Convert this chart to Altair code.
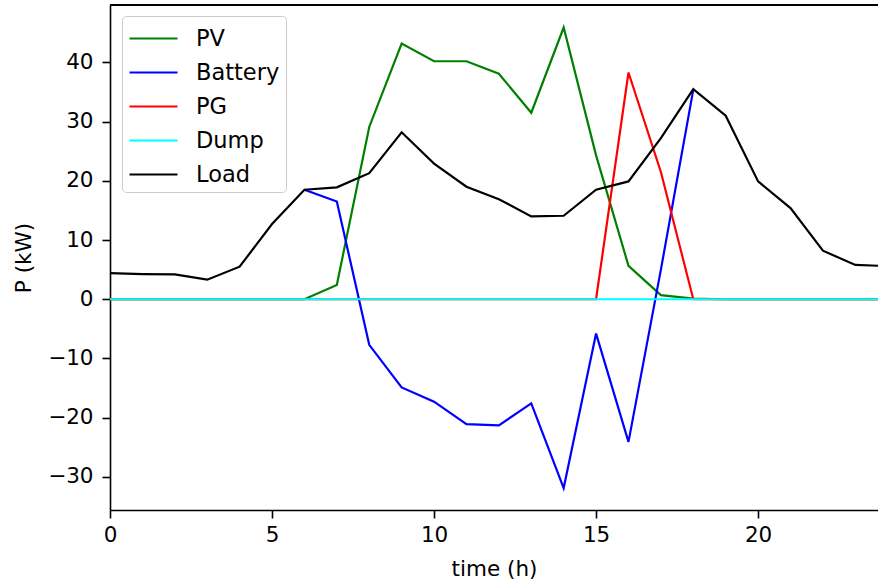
import altair as alt
import pandas as pd

hours = list(range(25))
pv      = [0, 0, 0, 0, 0, 0, 0, 2.4, 29.1, 43.2, 40.2, 40.2, 38.1, 31.5, 45.9, 24.3, 5.65, 0.7, 0.1, 0, 0, 0, 0, 0, 0]
battery = [None, None, None, None, None, None, 18.5, 16.5, -7.7, -14.9, -17.3, -21.1, -21.3, -17.6, -31.9, -5.8, -24.1, 5.0, 35.4, None, None, None, None, None, None]
pg      = [0, 0, 0, 0, 0, 0, 0, 0, 0, 0, 0, 0, 0, 0, 0, 0, 38.3, 21.5, 0, 0, 0, 0, 0, 0, 0]
dump    = [0] * 25
load    = [4.4, 4.25, 4.2, 3.3, 5.5, 12.7, 18.5, 18.9, 21.3, 28.2, 22.9, 19.0, 16.9, 14.0, 14.1, 18.5, 19.9, 27.2, 35.5, 31.0, 19.9, 15.4, 8.2, 5.8, 5.6]

series_names = ["PV", "Battery", "PG", "Dump", "Load"]
series_colors = ["#008000", "#0000ff", "#ff0000", "#00ffff", "#000000"]
series_values = [pv, battery, pg, dump, load]

rows = []
for name, vals in zip(series_names, series_values):
    for t, v in zip(hours, vals):
        if v is not None:
            rows.append({"time": t, "P": v, "series": name})
df = pd.DataFrame(rows)

FONT = "DejaVu Sans"

x_enc = alt.X("time:Q", scale=alt.Scale(domain=[0, 23.7], nice=False, zero=False),
              axis=alt.Axis(values=[0, 5, 10, 15, 20], title="time (h)", titlePadding=13,
                            labelFlush=False, labelPadding=6))
y_enc = alt.Y("P:Q", scale=alt.Scale(domain=[-35.6, 49.7], nice=False, zero=False),
              axis=alt.Axis(values=[-30, -20, -10, 0, 10, 20, 30, 40], title="P (kW)",
                            titlePadding=12, labelPadding=9))
color_enc = alt.Color("series:N",
                      scale=alt.Scale(domain=series_names, range=series_colors),
                      legend=alt.Legend(title=None, orient="none", legendX=12, legendY=11))

layers = []
for name in series_names:
    layers.append(
        alt.Chart(df).transform_filter(alt.datum.series == name)
        .mark_line(strokeWidth=2.2, clip=True)
        .encode(x=x_enc, y=y_enc, color=color_enc)
    )

top_spine = alt.Chart(df).mark_rule(color="black", strokeWidth=1.6).encode(
    x=alt.value(0), x2=alt.value(768), y=alt.value(0)
)

chart = alt.layer(*layers, top_spine).properties(
    width=768, height=505,
    autosize=alt.AutoSizeParams(type="none"),
    padding={"left": 110, "top": 5, "right": 0, "bottom": 72},
).configure_view(stroke=None).configure_axis(
    grid=False, domainColor="black", domainWidth=1.6, tickColor="black", tickWidth=1.6,
    tickSize=8, labelFont=FONT, labelFontSize=21.5, labelColor="black",
    titleFont=FONT, titleFontSize=21.5, titleFontWeight="normal", titleColor="black",
).configure_legend(
    labelFont=FONT, labelFontSize=22.5, labelColor="black",
    symbolType="M-1.6,0H1.6", symbolSize=900, symbolStrokeWidth=2.2,
    symbolOffset=9, labelOffset=26, padding=6, rowPadding=6,
    fillColor="white", strokeColor="#cccccc", cornerRadius=4,
)

chart.save("out.html", embed_options={"renderer": "svg", "actions": False})
